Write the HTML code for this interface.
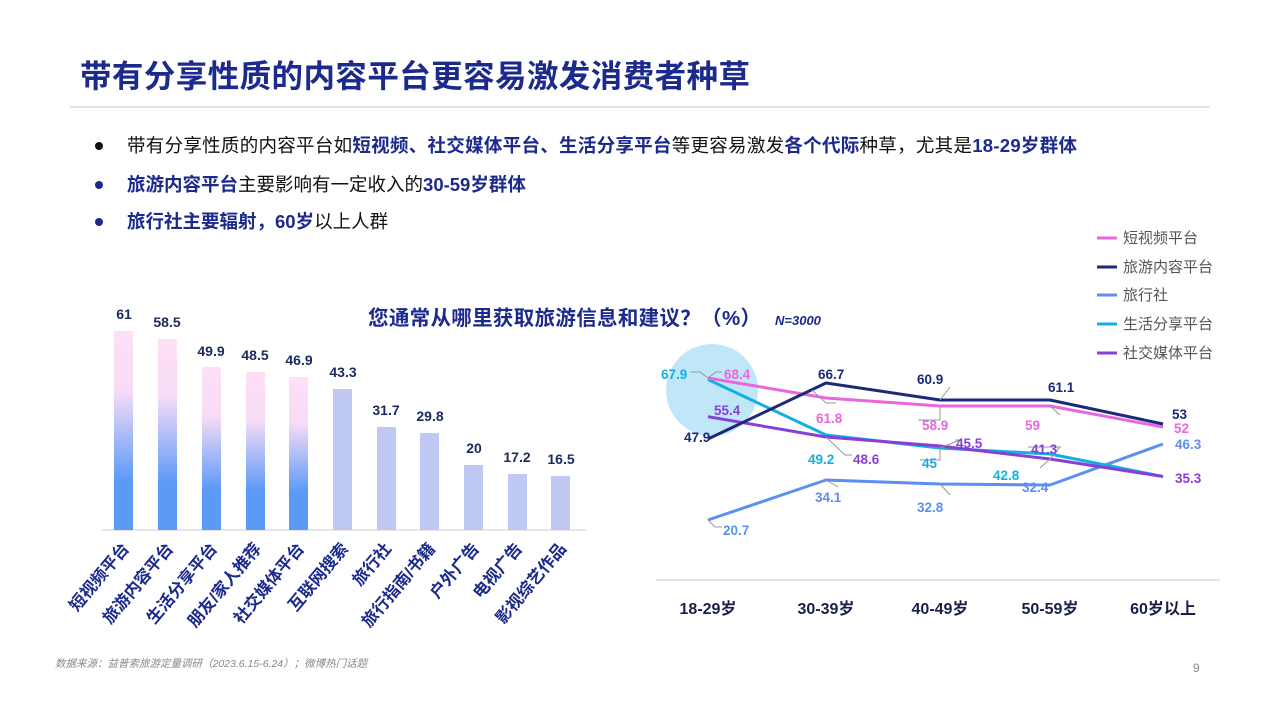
<!DOCTYPE html>
<html><head><meta charset="utf-8"><style>
body{margin:0;width:1280px;height:720px;background:#fff;overflow:hidden;font-family:"Liberation Sans","Noto Sans CJK SC",sans-serif;}
svg{position:absolute;left:0;top:0}
</style></head><body>
<svg width="1280" height="720" xmlns="http://www.w3.org/2000/svg" font-family="Liberation Sans, Noto Sans CJK SC, sans-serif">
<defs>
<linearGradient id="g" x1="0" y1="0" x2="0" y2="1">
<stop offset="0" stop-color="#fde0f6"/><stop offset="0.3" stop-color="#f8dcf6"/><stop offset="0.75" stop-color="#5c9af8"/><stop offset="1" stop-color="#5c9af8"/>
</linearGradient>
</defs>
<text x="80" y="87" font-size="31.5" font-weight="bold" fill="#1b2a8c" textLength="670">带有分享性质的内容平台更容易激发消费者种草</text>
<line x1="70" y1="107" x2="1210" y2="107" stroke="#e3e3e3" stroke-width="2"/>
<g font-size="18.5">
<circle cx="99" cy="146" r="4" fill="#111"/>
<text x="127" y="152" fill="#111" textLength="950">带有分享性质的内容平台如<tspan font-weight="bold" fill="#1b2a8c">短视频、社交媒体平台、生活分享平台</tspan>等更容易激发<tspan font-weight="bold" fill="#1b2a8c">各个代际</tspan>种草，尤其是<tspan font-weight="bold" fill="#1b2a8c">18-29岁群体</tspan></text>
<circle cx="99" cy="185" r="4" fill="#1b2a8c"/>
<text x="127" y="191" fill="#111"><tspan font-weight="bold" fill="#1b2a8c">旅游内容平台</tspan>主要影响有一定收入的<tspan font-weight="bold" fill="#1b2a8c">30-59岁群体</tspan></text>
<circle cx="99" cy="222" r="4" fill="#1b2a8c"/>
<text x="127" y="228" fill="#111"><tspan font-weight="bold" fill="#1b2a8c">旅行社主要辐射，60岁</tspan>以上人群</text>
</g>
<text x="368" y="325" font-size="20.5" font-weight="bold" fill="#1b2a8c" textLength="393">您通常从哪里获取旅游信息和建议？（%）</text>
<text x="775" y="325" font-size="13" font-weight="bold" font-style="italic" fill="#1b2a8c">N=3000</text>
<!-- bars -->
<line x1="102" y1="530" x2="586" y2="530" stroke="#e6e6e6" stroke-width="2"/>
<g font-size="14" font-weight="bold" fill="#1b2a5c" text-anchor="middle">
<rect x="114" y="331" width="19" height="199" fill="url(#g)"/><text x="124" y="319">61</text>
<rect x="158" y="339" width="19" height="191" fill="url(#g)"/><text x="167" y="327">58.5</text>
<rect x="202" y="367" width="19" height="163" fill="url(#g)"/><text x="211" y="356">49.9</text>
<rect x="246" y="372" width="19" height="158" fill="url(#g)"/><text x="255" y="360">48.5</text>
<rect x="289" y="377" width="19" height="153" fill="url(#g)"/><text x="299" y="365">46.9</text>
<rect x="333" y="389" width="19" height="141" fill="#bfc9f4"/><text x="343" y="377">43.3</text>
<rect x="377" y="427" width="19" height="103" fill="#bfc9f4"/><text x="386" y="415">31.7</text>
<rect x="420" y="433" width="19" height="97" fill="#bfc9f4"/><text x="430" y="421">29.8</text>
<rect x="464" y="465" width="19" height="65" fill="#bfc9f4"/><text x="474" y="453">20</text>
<rect x="508" y="474" width="19" height="56" fill="#bfc9f4"/><text x="517" y="462">17.2</text>
<rect x="551" y="476" width="19" height="54" fill="#bfc9f4"/><text x="561" y="464">16.5</text>
</g>
<g font-size="16.5" font-weight="bold" fill="#1b2a8c" text-anchor="end">
<text transform="translate(130,549) rotate(-50)">短视频平台</text>
<text transform="translate(174,549) rotate(-50)">旅游内容平台</text>
<text transform="translate(218,549) rotate(-50)">生活分享平台</text>
<text transform="translate(262,549) rotate(-50)">朋友/家人推荐</text>
<text transform="translate(305,549) rotate(-50)">社交媒体平台</text>
<text transform="translate(349,549) rotate(-50)">互联网搜索</text>
<text transform="translate(392,549) rotate(-50)">旅行社</text>
<text transform="translate(436,549) rotate(-50)">旅行指南/书籍</text>
<text transform="translate(480,549) rotate(-50)">户外广告</text>
<text transform="translate(523,549) rotate(-50)">电视广告</text>
<text transform="translate(567,549) rotate(-50)">影视综艺作品</text>
</g>
<!-- line chart -->
<circle cx="712" cy="390" r="46" fill="#bfe7f8"/>
<line x1="656" y1="580" x2="1220" y2="580" stroke="#dcdcdc" stroke-width="1.5"/>
<g font-size="16" font-weight="bold" fill="#1a1f4a" text-anchor="middle">
<text x="708" y="614">18-29岁</text><text x="826" y="614">30-39岁</text><text x="940" y="614">40-49岁</text><text x="1050" y="614">50-59岁</text><text x="1163" y="614">60岁以上</text>
</g>
<g fill="none" stroke-width="3" stroke-linejoin="round">
<polyline stroke="#5b8ff0" points="708,520 826,480 940,484 1050,485 1163,444"/>
<polyline stroke="#12b0e0" points="708,379.5 826,435 940,448 1050,454 1163,476.5"/>
<polyline stroke="#8a3ed8" points="708,416.7 826,437 940,446 1050,459 1163,476.5"/>
<polyline stroke="#ea66de" points="708,378 826,398 940,406 1050,406 1163,427"/>
<polyline stroke="#1b2a78" points="708,439 826,383 940,400 1050,400 1163,424"/>
</g>
<g stroke="#999" stroke-width="1" fill="none">
<polyline points="690,372 700,372 708,378"/><polyline points="708,378 716,372 722,372"/>
<polyline points="812,390 826,403 836,403"/><polyline points="826,437 845,455 852,455"/>
<polyline points="940,400 950,387"/><polyline points="940,406 940,420 918,420"/>
<polyline points="940,448 960,440 955,440"/><polyline points="940,448 940,460 920,460"/>
<polyline points="826,480 838,487"/><polyline points="940,484 950,495"/>
<polyline points="708,520 715,527 722,527"/><polyline points="1050,406 1060,415"/>
<polyline points="1050,459 1040,468"/><polyline points="1050,459 1060,447 1028,447"/>
</g>
<g font-size="13.5" font-weight="bold">
<text x="661" y="379" fill="#12b0e0">67.9</text>
<text x="724" y="379" fill="#ea66de">68.4</text>
<text x="714" y="415" fill="#8a3ed8">55.4</text>
<text x="684" y="442" fill="#1b2a78">47.9</text>
<text x="818" y="379" fill="#1b2a78">66.7</text>
<text x="816" y="423" fill="#ea66de">61.8</text>
<text x="808" y="464" fill="#12b0e0">49.2</text>
<text x="853" y="464" fill="#8a3ed8">48.6</text>
<text x="815" y="502" fill="#5b8ff0">34.1</text>
<text x="723" y="535" fill="#5b8ff0">20.7</text>
<text x="917" y="384" fill="#1b2a78">60.9</text>
<text x="922" y="430" fill="#ea66de">58.9</text>
<text x="956" y="448" fill="#8a3ed8">45.5</text>
<text x="922" y="468" fill="#12b0e0">45</text>
<text x="917" y="512" fill="#5b8ff0">32.8</text>
<text x="1048" y="392" fill="#1b2a78">61.1</text>
<text x="1025" y="430" fill="#ea66de">59</text>
<text x="1031" y="454" fill="#8a3ed8">41.3</text>
<text x="993" y="480" fill="#12b0e0">42.8</text>
<text x="1022" y="492" fill="#5b8ff0">32.4</text>
<text x="1172" y="419" fill="#1b2a78">53</text>
<text x="1174" y="433" fill="#ea66de">52</text>
<text x="1175" y="449" fill="#5b8ff0">46.3</text>
<text x="1175" y="483" fill="#8a3ed8">35.3</text>
</g>
<!-- legend -->
<g font-size="15" fill="#555">
<line x1="1097" y1="238" x2="1117" y2="238" stroke="#ea66de" stroke-width="3"/><text x="1123" y="243">短视频平台</text>
<line x1="1097" y1="267" x2="1117" y2="267" stroke="#1b2a78" stroke-width="3"/><text x="1123" y="272">旅游内容平台</text>
<line x1="1097" y1="295" x2="1117" y2="295" stroke="#5b8ff0" stroke-width="3"/><text x="1123" y="300">旅行社</text>
<line x1="1097" y1="324" x2="1117" y2="324" stroke="#12b0e0" stroke-width="3"/><text x="1123" y="329">生活分享平台</text>
<line x1="1097" y1="353" x2="1117" y2="353" stroke="#8a3ed8" stroke-width="3"/><text x="1123" y="358">社交媒体平台</text>
</g>
<text x="55" y="667" font-size="10.5" font-style="italic" fill="#888">数据来源：益普索旅游定量调研（2023.6.15-6.24）；微博热门话题</text>
<text x="1193" y="672" font-size="12" fill="#888">9</text>
</svg>
</body></html>
